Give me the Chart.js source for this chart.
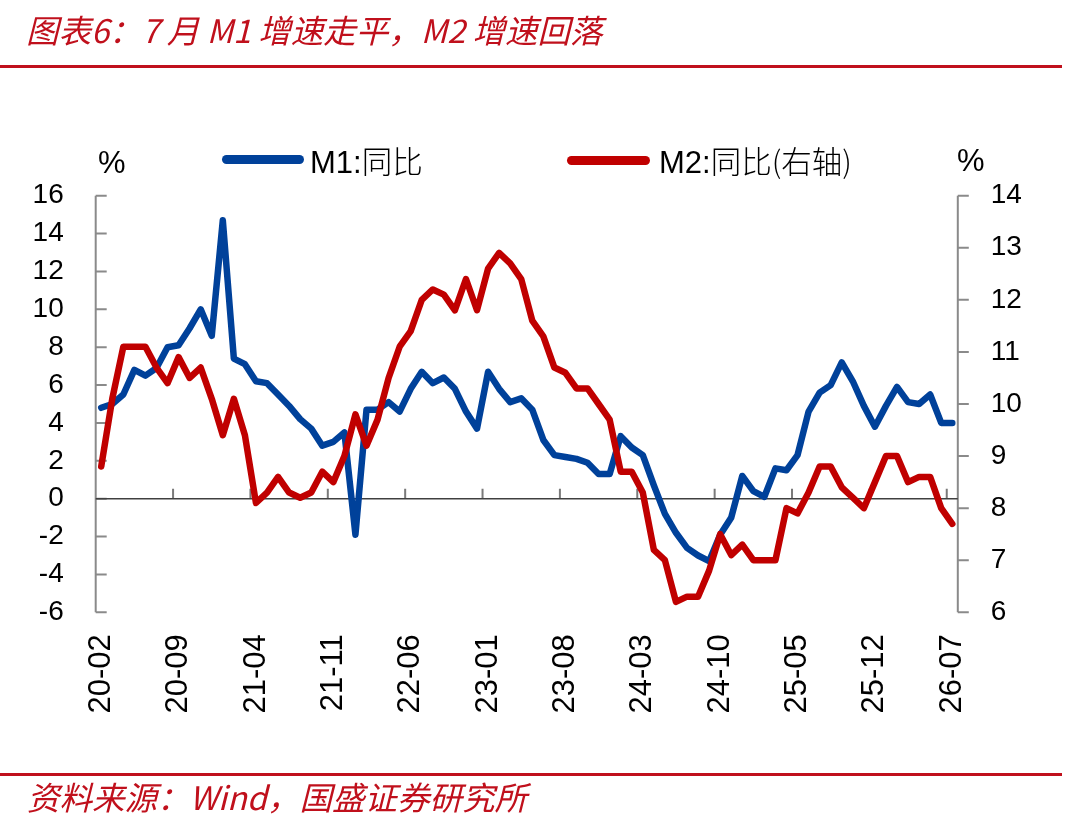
<!DOCTYPE html>
<html><head><meta charset="utf-8">
<script src="https://cdn.jsdelivr.net/npm/chart.js@4.4.1/dist/chart.umd.min.js"></script>
<style>
html,body{margin:0;padding:0;background:#fff;}
#wrap{position:relative;width:1080px;height:824px;overflow:hidden;background:#fff;}
canvas{position:absolute;left:0;top:0;}
.t{position:absolute;white-space:nowrap;}
.red{color:#C0101C;font-family:"Noto Sans CJK SC",sans-serif;font-style:italic;}
.rule{position:absolute;left:0;width:1062px;height:3px;background:#C0101C;}
.leg{position:absolute;white-space:nowrap;font-family:"Liberation Sans",Arial,sans-serif;font-size:31px;line-height:31px;color:#000;}
.cjk{font-family:"Noto Sans CJK SC",sans-serif;font-size:30.5px;font-weight:300;}
.sw{position:absolute;height:9px;border-radius:4.5px;}
.pct{position:absolute;font-family:"Liberation Sans",Arial,sans-serif;font-size:31px;line-height:31px;color:#000;}
</style></head>
<body><div id="wrap">
<canvas id="c" width="1080" height="824"></canvas>
<div class="t red" style="left:26px;top:13px;font-size:32.5px;line-height:32px;">图表6：7 月 M1 增速走平，M2 增速回落</div>
<div class="rule" style="top:65px;"></div>
<div class="pct" style="left:98px;top:147px;">%</div>
<div class="pct" style="left:957px;top:145px;">%</div>
<div class="sw" style="left:222px;width:82px;top:155px;background:#00419A;"></div>
<div class="leg" style="left:310px;top:145px;">M1:<span class="cjk">同比</span></div>
<div class="sw" style="left:567px;width:83px;top:156px;background:#C00000;"></div>
<div class="leg" style="left:659px;top:145px;">M2:<span class="cjk">同比(右轴)</span></div>
<div class="rule" style="top:773px;"></div>
<div class="t red" style="left:27px;top:780px;font-size:32.5px;line-height:32px;">资料来源：Wind，国盛证券研究所</div>
</div>
<script>
const months = ["20-02","20-03","20-04","20-05","20-06","20-07","20-08","20-09","20-10","20-11","20-12",
"21-01","21-02","21-03","21-04","21-05","21-06","21-07","21-08","21-09","21-10","21-11","21-12",
"22-01","22-02","22-03","22-04","22-05","22-06","22-07","22-08","22-09","22-10","22-11","22-12",
"23-01","23-02","23-03","23-04","23-05","23-06","23-07","23-08","23-09","23-10","23-11","23-12",
"24-01","24-02","24-03","24-04","24-05","24-06","24-07","24-08","24-09","24-10","24-11","24-12",
"25-01","25-02","25-03","25-04","25-05","25-06","25-07","25-08","25-09","25-10","25-11","25-12",
"26-01","26-02","26-03","26-04","26-05","26-06","26-07"];

const m1Yoy = [4.8,5.0,5.5,6.8,6.5,6.9,8.0,8.1,9.0,10.0,
8.6,14.7,7.4,7.1,6.2,6.1,5.5,4.9,4.2,3.7,
2.8,3.0,3.5,-1.9,4.7,4.7,5.1,4.6,5.8,6.7,
6.1,6.4,5.8,4.6,3.7,6.7,5.8,5.1,5.3,4.7,
3.1,2.3,2.2,2.1,1.9,1.3,1.3,3.3,2.7,2.3,
0.7,-0.8,-1.8,-2.6,-3.0,-3.3,-1.9,-1.0,1.2,0.4,
0.1,1.6,1.5,2.3,4.6,5.6,6.0,7.2,6.2,4.9,
3.8,4.9,5.9,5.1,5.0,5.5,4.0,4.0];

const m2Yoy = [8.8,10.1,11.1,11.1,11.1,10.7,10.4,10.9,10.5,10.7,
10.1,9.4,10.1,9.4,8.1,8.3,8.6,8.3,8.2,8.3,
8.7,8.5,9.0,9.8,9.2,9.7,10.5,11.1,11.4,12.0,
12.2,12.1,11.8,12.4,11.8,12.6,12.9,12.7,12.4,11.6,
11.3,10.7,10.6,10.3,10.3,10.0,9.7,8.7,8.7,8.3,
7.2,7.0,6.2,6.3,6.3,6.8,7.5,7.1,7.3,7.0,
7.0,7.0,8.0,7.9,8.3,8.8,8.8,8.4,8.2,8.0,
8.5,9.0,9.0,8.5,8.6,8.6,8.0,7.7];

const leftMin = -6, leftMax = 16, leftStep = 2;
const rightMin = 6, rightMax = 14, rightStep = 1;
const labelEvery = 7;

const axisPlugin = {
  id: 'customAxes',
  beforeDatasetsDraw(chart) {
    const {ctx, chartArea: a, scales: {x, y, y2}} = chart;
    ctx.save();
    ctx.lineCap = 'butt';
    ctx.strokeStyle = '#8a8a8a';
    ctx.lineWidth = 2;
    ctx.beginPath();
    ctx.moveTo(a.left, a.top); ctx.lineTo(a.left, a.bottom);
    y.ticks.forEach(t => { const py = y.getPixelForValue(t.value); ctx.moveTo(a.left, py); ctx.lineTo(a.left + 11, py); });
    ctx.moveTo(a.right, a.top); ctx.lineTo(a.right, a.bottom);
    y2.ticks.forEach(t => { const py = y2.getPixelForValue(t.value); ctx.moveTo(a.right, py); ctx.lineTo(a.right + 11, py); });
    ctx.stroke();
    const zy = y.getPixelForValue(0);
    ctx.strokeStyle = '#7a7a7a';
    ctx.lineWidth = 2;
    ctx.beginPath();
    for (let i = labelEvery; i < months.length; i += labelEvery) {
      const px = (x.getPixelForValue(i - 1) + x.getPixelForValue(i)) / 2;
      ctx.moveTo(px, zy); ctx.lineTo(px, zy - 10);
    }
    ctx.stroke();
    ctx.strokeStyle = '#404040';
    ctx.lineWidth = 1.5;
    ctx.beginPath();
    ctx.moveTo(a.left, zy); ctx.lineTo(a.right, zy);
    ctx.stroke();
    ctx.restore();
  }
};

new Chart(document.getElementById('c'), {
  type: 'line',
  data: {
    labels: months,
    datasets: [
      {label: 'M1:同比', data: m1Yoy, yAxisID: 'y', borderColor: '#00419A', backgroundColor: '#00419A',
       borderWidth: 6.5, pointRadius: 0, tension: 0, borderJoinStyle: 'round', borderCapStyle: 'round', order: 1},
      {label: 'M2:同比(右轴)', data: m2Yoy, yAxisID: 'y2', borderColor: '#C00000', backgroundColor: '#C00000',
       borderWidth: 6.5, pointRadius: 0, tension: 0, borderJoinStyle: 'round', borderCapStyle: 'round', order: 0}
    ]
  },
  options: {
    responsive: false,
    animation: false,
    devicePixelRatio: 1,
    layout: {padding: {top: 195.7, left: 0, right: 0, bottom: 0}},
    plugins: {legend: {display: false}, tooltip: {enabled: false}, title: {display: false}},
    scales: {
      x: {
        type: 'category', offset: true,
        grid: {display: false, drawTicks: false}, border: {display: false},
        ticks: {autoSkip: false, minRotation: 90, maxRotation: 90, padding: 22, color: '#000',
          font: {family: 'Liberation Sans', size: 31},
          callback: (v, i) => (i % labelEvery === 0 ? months[i] : '')},
        afterFit(s) { s.height = 824 - 612.3; }
      },
      y: {
        position: 'left', min: leftMin, max: leftMax,
        grid: {display: false, drawTicks: false}, border: {display: false},
        ticks: {stepSize: leftStep, padding: 32, color: '#000', font: {family: 'Liberation Sans', size: 28}},
        afterFit(s) { s.width = 95.7; }
      },
      y2: {
        position: 'right', min: rightMin, max: rightMax,
        grid: {display: false, drawTicks: false}, border: {display: false},
        ticks: {stepSize: rightStep, padding: 33, color: '#000', font: {family: 'Liberation Sans', size: 28}},
        afterFit(s) { s.width = 1080 - 957.8; }
      }
    }
  },
  plugins: [axisPlugin]
});
</script>
</body></html>
